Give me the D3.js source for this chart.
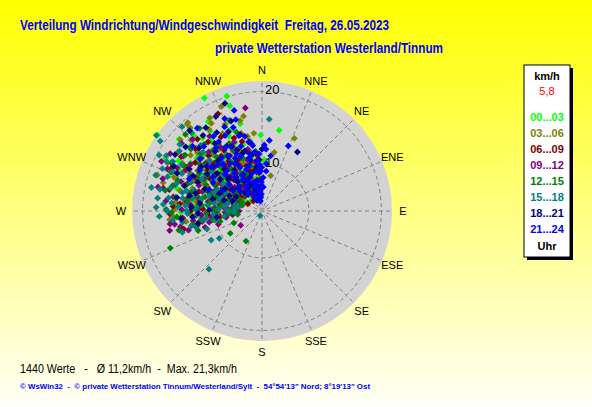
<!DOCTYPE html>
<html>
<head>
<meta charset="utf-8">
<script src="https://cdn.jsdelivr.net/npm/d3@7"></script>
<style>
  html, body { margin: 0; padding: 0; }
  svg { display: block; }
  text { font-family: "Liberation Sans", Arial, sans-serif; white-space: pre; }
</style>
</head>
<body>
<div id="chart"></div>
<script>
// wind direction (deg) and speed (km/h), one array per 3-hour block
const h00_03 = [[333,20.9],[343,20.1],[306,21.2],[311,18.8],[12,15.2],[359,14.3],[3,10.5],[346,16.2],[343,18.8],[2.6,10.7],
  [320,14.5],[325,12.8],[331,11.6],[316,13.2],[309,15.4],[327,16.9],[338,13.9],[322,10.2],[314,11.8],[301,13.6],
  [296,16.4],[318,17.8],[335,9.4],[341,11.2],[328,8.6],[312,9.7],[305,11.1],[299,12.6],[289,14.8],[324,15.7],
  [336,15.1],[347,12.4],[351,9.8],[319,7.9],[308,8.4],[293,10.3],[283,12.1],[301,17.2],[329,18.1],[316,16.1],
  [340,17.0],[311,14.1],[326,6.8],[304,6.3],[287,9.1],[277,11.4],[298.7,18.8],
  [318,12.3],[323,9.1],[330,14.0],[314,15.0],[307,13.0],[297,14.2],[291,12.0],[285,16.0],[279,13.3],[334,11.1],
  [339,15.8],[344,13.3],[349,11.2],[353,8.0],[317,5.9],[309,9.9],[302,8.0],[295,9.7],[327,10.6],[312,17.1],
  [304,15.7],[321,16.8],[332,7.5],[338,5.4],[346,9.6],[290,6.4],[300,4.8],[313,4.3],[326,4.6],[284,10.4],[274,13.0],[269,15.0]];
const h03_06 = [[349,17.1],[354,14.6],[349,14.3],[24,14.8],[11.8,12],[13.8,8.3],[338.9,19.1],[346.4,16.6],[330.7,18.4],[320,19.5],
  [319.2,18.8],[319.3,19.4],[264.6,16.6],[312,15.8],[325,14.2],[334,13.1],[318,12.0],[306,13.4],[298,15.1],[291,16.8],
  [284,15.5],[276,14.6],[271,15.9],[281,12.7],[294,11.9],[303,10.8],[313,9.6],[322,8.9],[331,10.4],[340,12.6],
  [345,14.9],[327,17.2],[337,16.8],[315,17.6],[305,17.9],[297,18.3],[288,13.9],[300,8.1],[310,6.9],[328,7.2],
  [343,9.2],[273,12.2],[267,13.6],[280,10.3],[292,9.0],[316,14.6],[309,12.5],[336,11.2],[323,11.5],[302,14.3],[286,17.9],
  [314,11.2],[320,10.1],[327,12.1],[333,15.8],[339,10.6],[344,7.8],[350,11.9],[355,9.4],[308,16.3],[301,16.6],
  [294,14.1],[287,11.1],[278,12.9],[272,10.6],[266,9.5],[283,8.6],[291,7.5],[299,5.9],[306,9.0],[317,7.3],
  [324,13.3],[330,17.7],[311,18.6],[319,14.1],[335,5.7],[347,5.0],[276,15.8],[263,12.2],[289,18.9],[296,12.9],
  [262,14.4],[258,12.8],[266,16.0]];
const h06_09 = [[335.6,18.4],[315,13.1],[321,11.9],[328,13.7],[309,10.9],[302,12.2],[296,13.8],[290,11.6],[318,9.2],[326,9.9],
  [334,8.3],[341,10.1],[346,12.2],[352,8.8],[355,11.4],[349,6.4],[338,6.1],[329,5.3],[320,6.6],[312,7.7],
  [304,8.8],[297,9.9],[287,12.9],[281,10.8],[276,8.7],[272,11.9],[269,9.8],[285,7.2],[294,6.1],[306,15.2],
  [313,16.4],[322,15.9],[331,15.5],[339,14.6],[318,17.1],[300,15.9],[291,14.7],[280,14.2],[273,16.1],[326,12.0],
  [311,11.3],[335,11.5],[344,13.8],[357,7.5],[348,10.6],
  [316,14.4],[323,13.2],[330,11.1],[337,12.9],[343,9.2],[350,7.1],[355,5.3],[307,13.1],[299,11.0],[292,9.1],
  [286,10.2],[279,12.4],[270,13.7],[265,11.0],[275,15.2],[283,16.9],[295,17.6],[304,17.2],[311,5.8],[324,7.6],
  [333,6.9],[341,5.0],[303,6.5],[297,4.5],[319,3.9],[310,14.0],[327,15.0],[289,8.1],[278,9.3],[262,9.3],[349,9.1],
  [260,12.1],[257,14.9],[265,15.1],[263,7.1]];
const h09_12 = [[350.8,18.1],[261.3,16],[259,15.3],[296.3,19.1],[283,17.7],[236,6.4],[253,9.8],[255.4,14.3],[275,13.7],[279,16.2],
  [271,14.9],[266,12.1],[284,14.3],[290,15.7],[297,16.9],[303,15.6],[288,12.4],[280,11.2],[274,10.1],[268,8.4],
  [263,10.6],[285,9.3],[293,10.7],[299,12.9],[306,11.8],[312,12.7],[318,14.8],[325,16.4],[310,18.2],[302,18.6],
  [294,18.0],[300,7.4],[291,6.8],[278,7.0],[270,5.9],[308,9.5],[315,10.4],[322,11.3],[330,12.6],[338,14.1],
  [344,11.0],[352,10.4],[327,8.1],[283,18.4],[276,17.1],[265,14.8],[311,14.9],[297,14.0],
  [272,12.5],[277,14.3],[282,12.9],[287,16.3],[292,13.2],[298,15.8],[305,14.2],[313,13.8],[320,12.6],[327,14.4],
  [334,10.5],[341,8.5],[347,12.5],[356,8.6],[268,16.5],[262,13.4],[258,11.1],[264,7.2],[273,7.9],[281,9.2],
  [289,11.0],[296,9.1],[304,10.5],[311,8.3],[318,9.9],[324,6.9],[305,17.0],[288,18.1],[295,7.0],[286,5.6],[316,17.5],[330,9.4],
  [257,13.0],[254,11.9],[260,8.3],[262,16.6],[258,16.8]];
const h12_15 = [[248,17.4],[234.9,8.7],[208,7.9],[247,7.3],[259,13.6],[278,14.2],[283,13.1],[289,14.9],[295,12.3],[301,13.9],
  [307,14.6],[313,15.4],[320,13.5],[327,14.9],[272,13.2],[268,11.4],[274,9.6],[281,8.5],[288,10.1],[296,8.9],
  [303,9.8],[310,10.7],[317,11.9],[324,10.8],[331,9.4],[338,8.7],[286,16.6],[293,17.4],[300,16.2],[306,16.9],
  [315,18.6],[323,18.0],[279,15.9],[271,17.0],[266,15.6],[261,12.3],[265,7.8],[276,6.3],[287,5.4],[298,6.5],
  [309,7.6],[290,7.9],[299,11.2],[305,12.0],[284,11.8],[335,12.9],[342,15.3],[350,13.6],
  [275,12.1],[280,10.8],[285,13.9],[291,11.1],[297,13.6],[303,12.8],[309,11.9],[315,12.7],[321,14.6],[328,11.7],
  [334,14.2],[340,11.4],[346,9.9],[354,12.0],[270,10.2],[265,13.4],[260,10.5],[269,16.3],[282,17.4],[290,16.2],
  [298,17.9],[311,16.8],[319,16.0],[326,8.2],[302,7.2],[284,6.8],[272,7.5],[294,5.7],[314,6.0],[332,6.3],[278,9.0],[308,9.2],
  [256,9.4],[262,6.2],[257,15.6],[253,13.0]];
const h15_18 = [[4.5,16.5],[340.2,17.1],[309,18.3],[316.5,19.6],[304.5,20.5],[298.5,19.7],[288.6,19.1],[273.9,17.4],[297.4,18.5],[282,18.1],
  [222.4,14.7],[240.2,11.8],[237.4,10.6],[202,1.9],[251.8,11.7],[256.5,13.2],[275,16.3],[279,14.9],[284,16.8],[290,17.6],
  [295,16.0],[287,13.6],[281,12.3],[276,11.2],[271,12.8],[268,14.1],[264,16.2],[270,16.9],[277,18.2],[292,14.4],
  [298,13.2],[304,14.0],[310,15.1],[317,16.2],[302,11.6],[296,10.4],[289,9.2],[283,8.0],[272,9.5],[266,10.3],
  [262,8.6],[308,12.7],[314,13.9],[321,12.4],[293,18.6],[300,18.9],[306,17.8],[286,11.3],[279,10.2],[274,14.4],
  [268,6.9],[280,6.1],[305.6,21.3],
  [273,15.4],[278,16.8],[283,15.1],[288,16.2],[294,17.2],[300,16.6],[285,14.6],[280,13.6],[275,12.6],[270,14.2],
  [266,12.9],[262,14.9],[267,17.9],[272,18.3],[282,19.2],[290,12.1],[296,14.9],[303,13.1],[309,13.8],[315,15.3],
  [321,14.3],[328,13.0],[297,9.0],[291,10.6],[284,9.6],[277,8.6],[270,8.0],[264,9.8],[259,10.2],[305,10.1],
  [312,11.1],[288,7.1],[276,6.8],[299,17.8],[318,18.2],
  [258,13.8],[261,12.0],[255,15.2],[263,11.4]];
const h18_21 = [[341,19.3],[31,13.3],[0,12.3],[297,17.4],[264.3,15.0],[322,14.3],[328,12.7],[335,13.6],[341,12.1],[347,10.9],
  [353,9.6],[318,11.4],[312,12.9],[306,14.2],[300,15.4],[294,13.5],[288,15.1],[282,14.0],[326,10.4],[333,9.1],
  [340,8.2],[346,7.0],[352,5.9],[320,8.6],[313,9.9],[307,10.9],[301,9.4],[295,8.2],[289,7.4],[315,16.1],
  [322,17.0],[330,16.3],[337,15.7],[344,14.8],[351,13.2],[310,17.5],[303,18.0],[317,6.2],[328,6.6],[338,4.9],
  [277,12.4],[271,10.9],[284,10.6],[309,13.6],[332,11.0],[357,10.7],
  [319,13.0],[325,15.2],[331,14.0],[338,12.9],[344,12.4],[350,11.6],[356,8.8],[316,10.0],[310,11.8],[304,12.9],
  [297,14.5],[291,12.2],[285,13.3],[279,15.7],[273,13.6],[268,12.6],[323,9.3],[330,8.0],[336,7.0],[343,5.9],
  [349,4.6],[314,7.6],[307,8.3],[299,7.1],[292,9.9],[286,8.8],[326,17.6],[334,18.2],[318,18.6],[341,16.9],
  [357,6.1],[353,3.9],[334,3.6],[294,16.6],
  [262,9.8],[259,12.8],[265,13.4]];
const h21_24 = [[344.5,18.1],[22,13.5],[3.7,12.3],[359.6,9.5],[330,13.9],[336,12.4],[342,13.2],[348,11.8],[354,10.6],[358,8.9],
  [326,11.6],[333,10.3],[339,9.6],[345,8.7],[351,7.4],[356,6.2],[320,12.2],[324,14.6],[318,15.8],[327,16.1],
  [334,15.4],[341,16.0],[347,14.4],[352,12.9],[357,11.6],[2,7.8],[5,10.1],[315,10.8],[321,9.4],[328,8.4],
  [335,7.6],[342,6.3],[348,5.1],[311,13.1],[305,12.0],[313,16.9],[322,18.2],[338,17.5],[355,4.2],[346,3.8],
  [336,5.2],[325,6.1],[317,7.8],[309,9.2],[300,11.5],[294,14.8],[331,11.2],[344,10.1],
  [329,12.6],[334,13.7],[339,11.8],[343,14.7],[349,13.5],[353,11.9],[357,9.9],[359,7.0],[3,6.1],[6,8.9],
  [9,11.4],[323,13.0],[328,15.1],[336,16.5],[344,16.9],[319,11.0],[324,10.0],[331,9.0],[337,8.0],[343,7.2],
  [349,6.5],[354,5.6],[358,4.7],[351,3.2],[340,3.6],[330,4.4],[320,5.6],[312,7.0],[305,8.1],[298,9.6],
  [292,11.6],[316,12.6],[310,15.0],[303,14.1],[333,11.9],[346,11.2],[352,9.0],[327,7.0],[2,12.9],[6,13.6]];

const groupLabels = ["00...03","03...06","06...09","09...12","12...15","15...18","18...21","21...24"];
const groupData = [h00_03, h03_06, h06_09, h09_12, h12_15, h15_18, h18_21, h21_24];
const groupColors = ["#00FF00","#808000","#800000","#800080","#008000","#008080","#000080","#0000FF"];

const compass = ["N","NNE","NE","ENE","E","ESE","SE","SSE","S","SSW","SW","WSW","W","WNW","NW","NNW"];
const rings = [10, 20];
const maxSpeed = 21.3;
const avgSpeed = 11.2;
const countValues = 1440;
const legendValue = "5,8";

const W = 592, H = 407;
const cx = 262, cy = 211, R = 130;

const svg = d3.select("#chart").append("svg")
  .attr("width", W).attr("height", H);

const defs = svg.append("defs");
const grad = defs.append("linearGradient")
  .attr("id", "bg").attr("x1", 0).attr("y1", 0).attr("x2", 0).attr("y2", 1);
grad.append("stop").attr("offset", "0%").attr("stop-color", "#FFFF00");
grad.append("stop").attr("offset", "100%").attr("stop-color", "#FFFFF8");

svg.append("rect").attr("width", W).attr("height", H).attr("fill", "url(#bg)");

// titles
svg.append("text")
  .attr("x", 20).attr("y", 30)
  .attr("textLength", 369).attr("lengthAdjust", "spacingAndGlyphs")
  .style("font-size", "14px").style("font-weight", "bold").style("fill", "#0000FF")
  .text("Verteilung Windrichtung/Windgeschwindigkeit  Freitag, 26.05.2023");
svg.append("text")
  .attr("x", 215).attr("y", 53)
  .attr("textLength", 228).attr("lengthAdjust", "spacingAndGlyphs")
  .style("font-size", "14px").style("font-weight", "bold").style("fill", "#0000FF")
  .text("private Wetterstation Westerland/Tinnum");

const rScale = d3.scalePow().exponent(1.35).domain([0, maxSpeed]).range([0, R]);
const px = (dir, r) => cx + r * Math.sin(dir * Math.PI / 180);
const py = (dir, r) => cy - r * Math.cos(dir * Math.PI / 180);

const g = svg.append("g");

g.append("circle")
  .attr("cx", cx).attr("cy", cy).attr("r", R)
  .style("fill", "#D3D3D3");

// dashed rings
g.selectAll(".ring")
  .data(rings)
  .enter()
  .append("circle")
  .attr("class", "ring")
  .attr("cx", cx).attr("cy", cy)
  .attr("r", d => rScale(d))
  .style("fill", "none")
  .style("stroke", "#808080")
  .style("stroke-width", 1)
  .style("stroke-dasharray", "4,3");

// spokes
g.selectAll(".spoke")
  .data(compass)
  .enter()
  .append("line")
  .attr("class", "spoke")
  .attr("x1", (d, i) => px(i * 22.5, 5))
  .attr("y1", (d, i) => py(i * 22.5, 5))
  .attr("x2", (d, i) => px(i * 22.5, R))
  .attr("y2", (d, i) => py(i * 22.5, R))
  .style("stroke", "#808080")
  .style("stroke-width", 1)
  .style("stroke-dasharray", "4,3");

// compass labels
g.selectAll(".dir")
  .data(compass)
  .enter()
  .append("text")
  .attr("class", "dir")
  .attr("x", (d, i) => px(i * 22.5, 141))
  .attr("y", (d, i) => py(i * 22.5, 141))
  .attr("dy", "0.35em")
  .style("text-anchor", "middle")
  .style("font-size", "11px")
  .style("fill", "#000")
  .text(d => d);

// points, oldest block first
const diamond = "M0,-3.4L3.4,0L0,3.4L-3.4,0Z";
groupData.forEach((pts, gi) => {
  g.selectAll(`.pt-${gi}`)
    .data(pts)
    .enter()
    .append("path")
    .attr("class", `pt-${gi}`)
    .attr("d", diamond)
    .attr("transform", d => `translate(${px(d[0], rScale(d[1]))},${py(d[0], rScale(d[1]))})`)
    .style("fill", groupColors[gi]);
});

// calm marker at the centre
g.append("rect")
  .attr("x", cx - 2.5).attr("y", cy - 3.5).attr("width", 5).attr("height", 5)
  .style("fill", "#A0A0A0");

// ring labels
g.selectAll(".ringlabel")
  .data(rings)
  .enter()
  .append("text")
  .attr("class", "ringlabel")
  .attr("x", cx + 3)
  .attr("y", d => cy - rScale(d) - 2)
  .attr("dy", "0.35em")
  .style("font-size", "13px")
  .style("fill", "#000")
  .text(d => d);

// legend
const lx = 524, ly = 65, lw = 46, lh = 192;
svg.append("rect").attr("x", lx + 3).attr("y", ly + 3).attr("width", lw).attr("height", lh).style("fill", "#000");
svg.append("rect").attr("x", lx).attr("y", ly).attr("width", lw).attr("height", lh)
  .style("fill", "#fff").style("stroke", "#000").style("stroke-width", 1);
const lcx = lx + lw / 2;
svg.append("text").attr("x", lcx).attr("y", 76).attr("dy", "0.35em")
  .style("text-anchor", "middle").style("font-size", "11px").style("font-weight", "bold")
  .text("km/h");
svg.append("text").attr("x", lcx).attr("y", 91).attr("dy", "0.35em")
  .style("text-anchor", "middle").style("font-size", "11px").style("fill", "#FF0000")
  .text(legendValue);
svg.selectAll(".leg")
  .data(groupLabels)
  .enter()
  .append("text")
  .attr("class", "leg")
  .attr("x", lcx)
  .attr("y", (d, i) => 117 + i * 16)
  .attr("dy", "0.35em")
  .style("text-anchor", "middle").style("font-size", "11px").style("font-weight", "bold")
  .style("fill", (d, i) => groupColors[i])
  .text(d => d);
svg.append("text").attr("x", lcx).attr("y", 246).attr("dy", "0.35em")
  .style("text-anchor", "middle").style("font-size", "11px").style("font-weight", "bold")
  .text("Uhr");

// footer
const fmt = v => v.toFixed(1).replace(".", ",");
svg.append("text")
  .attr("x", 20).attr("y", 373)
  .attr("textLength", 217).attr("lengthAdjust", "spacingAndGlyphs")
  .style("font-size", "12px").style("fill", "#000")
  .text(`${countValues} Werte   -   Ø ${fmt(avgSpeed)}km/h  -  Max. ${fmt(maxSpeed)}km/h`);
svg.append("text")
  .attr("x", 20).attr("y", 389)
  .attr("textLength", 350).attr("lengthAdjust", "spacingAndGlyphs")
  .style("font-size", "8px").style("font-weight", "bold").style("fill", "#0000FF")
  .text("© WsWin32  -  © private Wetterstation Tinnum/Westerland/Sylt  -  54°54'13\" Nord; 8°19'13\" Ost");
</script>
</body>
</html>
